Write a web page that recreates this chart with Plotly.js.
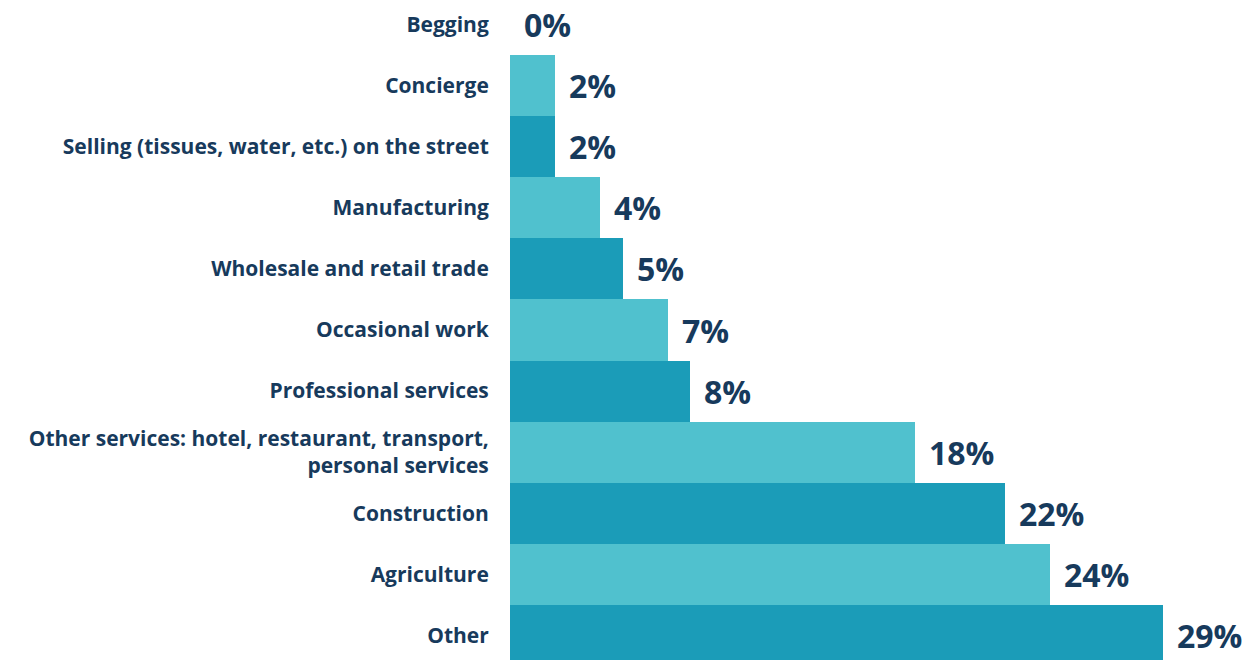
<!DOCTYPE html>
<html>
<head>
<meta charset="utf-8">
<script src="https://cdn.plot.ly/plotly-3.0.1.min.js"></script>
<style>html,body{margin:0;padding:0;background:#fff;}#chart{width:1243px;height:660px;}</style>
</head>
<body>
<div id="chart"></div>
<script>
// Data (bottom to top)
const categories = [
  "Other",
  "Agriculture",
  "Construction",
  "Other services: hotel, restaurant, transport,<br>personal services",
  "Professional services",
  "Occasional work",
  "Wholesale and retail trade",
  "Manufacturing",
  "Selling (tissues, water, etc.) on the street",
  "Concierge",
  "Begging"
];
const values = [29, 24, 22, 18, 8, 7, 5, 4, 2, 2, 0];
const valueLabels = ["29%", "24%", "22%", "18%", "8%", "7%", "5%", "4%", "2%", "2%", "0%"];

const LIGHT = "#50C1CE", DARK = "#1B9CB8", NAVY = "#173A5C";
const colors = categories.map((c, i) => (i % 2 === 0 ? DARK : LIGHT));
const FONT = "Open Sans, Liberation Sans, sans-serif";

const trace = {
  type: "bar",
  orientation: "h",
  x: values,
  y: categories,
  marker: { color: colors, line: { width: 0 } },
  hoverinfo: "none"
};

const annotations = categories.map((c, i) => ({
  x: values[i],
  y: c,
  xref: "x",
  yref: "y",
  text: "<b>" + valueLabels[i] + "</b>",
  showarrow: false,
  xanchor: "left",
  yanchor: "middle",
  xshift: 12,
  yshift: 0,
  font: { family: FONT, size: 32, color: NAVY }
}));

const layout = {
  width: 1243,
  height: 660,
  margin: { l: 510, r: 0, t: 0, b: 0 },
  paper_bgcolor: "#ffffff",
  plot_bgcolor: "#ffffff",
  bargap: 0,
  showlegend: false,
  xaxis: {
    range: [0, 32.55],
    showgrid: false,
    zeroline: false,
    showticklabels: false,
    showline: false,
    fixedrange: true
  },
  yaxis: {
    type: "category",
    range: [-0.4, 10.4],
    showgrid: false,
    zeroline: false,
    showline: false,
    ticks: "outside",
    ticklen: 16,
    tickcolor: "rgba(0,0,0,0)",
    tickfont: { family: FONT, size: 21, color: NAVY, weight: 700 },
    fixedrange: true
  },
  annotations: annotations
};

Plotly.newPlot("chart", [trace], layout, { displayModeBar: false, staticPlot: true });
</script>
</body>
</html>
